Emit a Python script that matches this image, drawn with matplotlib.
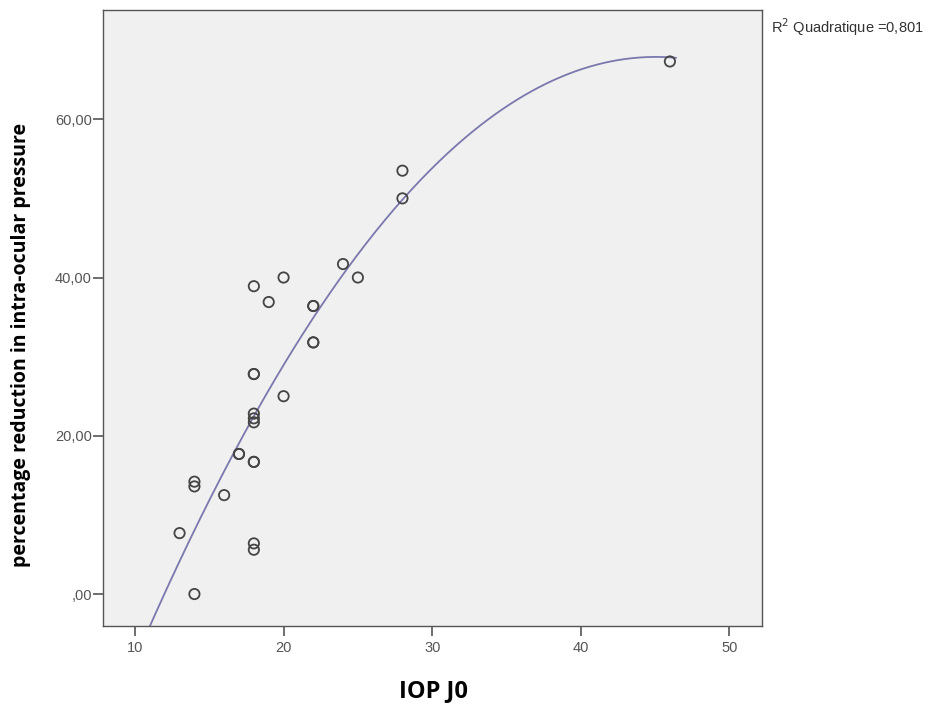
import numpy as np
import matplotlib
matplotlib.use("Agg")
import matplotlib.pyplot as plt
from matplotlib.ticker import FuncFormatter

# Data
iop_j0 = [13, 14, 14, 14, 16, 17, 17, 18, 18, 18, 18, 18, 18, 18, 18, 18, 18,
          19, 20, 20, 22, 22, 22, 22, 24, 25, 28, 28, 46]
reduction = [7.7, 0.0, 14.2, 13.6, 12.5, 17.7, 17.7, 38.9, 27.8, 27.8, 22.8, 22.2,
             21.7, 16.7, 16.7, 6.4, 5.6,
             36.9, 40.0, 25.0, 36.4, 36.4, 31.8, 31.8, 41.7, 40.0, 53.5, 50.0, 67.3]
x_ticks = [10, 20, 30, 40, 50]
y_ticks = [0, 20, 40, 60]
r2_label = "R$^2$ Quadratique =0,801"

x = np.array(iop_j0, float)
y = np.array(reduction, float)
coef = np.polyfit(x, y, 2)
xs = np.linspace(10.0, 46.4, 300)
ys = np.polyval(coef, xs)

fig = plt.figure(figsize=(9.41, 7.06), dpi=100)
ax = fig.add_axes([0.1095, 0.1133, 0.7003, 0.8725])
ax.set_facecolor("#f0f0f0")

ax.plot(xs, ys, color="#7a78ad", lw=1.3, zorder=2)
ax.scatter(x, y, s=55, facecolors="none", edgecolors="#444444", linewidths=1.3, zorder=3)

ax.set_xlim(7.85, 52.2)
ax.set_ylim(-4.04, 73.8)
ax.set_xticks(x_ticks)
ax.set_yticks(y_ticks)

def yfmt(v, pos):
    s = f"{v:.2f}".replace(".", ",")
    if s.startswith("0,"):
        s = s[1:]
    return s

ax.yaxis.set_major_formatter(FuncFormatter(yfmt))
ax.tick_params(axis="both", direction="out", length=7, width=1.2, color="#555555",
               labelcolor="#555555", labelsize=10.5)
ax.tick_params(axis="y", pad=1)
ax.tick_params(axis="x", pad=4)
for lab in ax.get_xticklabels() + ax.get_yticklabels():
    lab.set_family("Liberation Sans")
for sp in ax.spines.values():
    sp.set_color("#555555")
    sp.set_linewidth(1.0)

fig.text(433 / 941, 1 - 691 / 706, "IOP J0", fontsize=17, fontweight="bold",
         family="Open Sans", ha="center", va="center")
fig.text(21 / 941, 1 - 345 / 706, "percentage reduction in intra-ocular pressure",
         fontsize=14, fontweight="bold", family="Open Sans", rotation=90,
         ha="center", va="center")

fig.text(771 / 941, 1 - 33 / 706, r2_label, fontsize=10.5, color="#333333",
         ha="left", va="baseline", family="Liberation Sans")

fig.savefig("out.png", dpi=100)
